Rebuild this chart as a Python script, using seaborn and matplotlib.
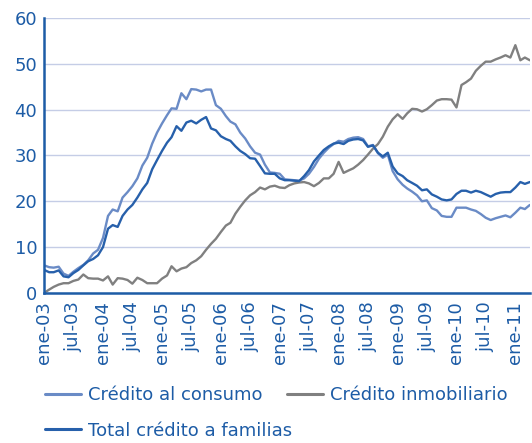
import pandas as pd
import matplotlib
matplotlib.use("Agg")
import matplotlib.pyplot as plt
import seaborn as sns

# monthly series, ene-03 .. abr-11 (%)
consumo = [6.0, 5.6, 5.5, 5.7, 4.2, 3.7, 4.6, 5.4, 6.1, 7.1,
           8.6, 9.4, 12.0, 16.8, 18.2, 17.8, 20.8, 22.0, 23.3, 25.0,
           27.8, 29.5, 32.6, 35.0, 37.0, 38.8, 40.3, 40.2, 43.6, 42.3,
           44.5, 44.4, 44.0, 44.4, 44.4, 41.0, 40.2, 38.6, 37.4, 36.8,
           35.0, 33.7, 32.0, 30.6, 30.2, 28.0, 26.3, 26.2, 26.0, 24.8,
           24.7, 24.6, 24.5, 25.0, 26.0, 27.5, 29.3, 30.6, 31.7, 32.5,
           33.2, 33.0, 33.6, 33.9, 34.0, 33.6, 32.0, 32.3, 30.5, 29.5,
           30.2, 26.6, 24.8, 23.6, 22.8, 22.1, 21.3, 20.0, 20.2, 18.5,
           18.0, 16.8, 16.6, 16.6, 18.6, 18.6, 18.6, 18.2, 17.9, 17.2,
           16.4, 15.9, 16.3, 16.6, 16.9, 16.5, 17.5, 18.6, 18.3, 19.2]

total = [5.0, 4.5, 4.5, 4.9, 3.6, 3.4, 4.3, 5.0, 6.0, 6.9,
         7.4, 8.2, 10.0, 14.0, 14.8, 14.4, 16.8, 18.2, 19.2, 20.8,
         22.6, 24.0, 27.0, 29.0, 31.0, 32.8, 34.0, 36.4, 35.4, 37.2,
         37.6, 37.0, 37.8, 38.4, 35.9, 35.5, 34.2, 33.6, 33.2, 32.0,
         31.0, 30.3, 29.4, 29.3, 27.7, 26.1, 26.0, 26.0, 25.0, 24.6,
         24.6, 24.5, 24.4, 25.5, 26.8, 28.7, 30.0, 31.2, 32.0, 32.6,
         32.8, 32.5, 33.2, 33.5, 33.6, 33.3, 31.9, 32.2, 30.6, 29.8,
         30.6, 27.6, 26.1, 25.5, 24.6, 24.0, 23.4, 22.4, 22.6, 21.5,
         21.0, 20.4, 20.2, 20.4, 21.6, 22.3, 22.3, 21.9, 22.3, 22.0,
         21.5, 21.0, 21.6, 21.9, 22.0, 22.0, 23.0, 24.2, 23.8, 24.2]

inmobiliario = [0.0, 0.7, 1.3, 1.8, 2.1, 2.1, 2.6, 2.9, 4.0, 3.2,
                3.1, 3.1, 2.7, 3.6, 1.8, 3.2, 3.1, 2.8, 2.0, 3.3,
                2.8, 2.1, 2.1, 2.1, 3.1, 3.8, 5.8, 4.7, 5.3, 5.6,
                6.5, 7.1, 8.0, 9.4, 10.7, 11.8, 13.3, 14.7, 15.3, 17.3,
                18.8, 20.2, 21.3, 22.0, 23.0, 22.6, 23.2, 23.4, 23.0, 22.9,
                23.5, 23.9, 24.1, 24.2, 23.9, 23.3, 24.0, 25.0, 25.0, 26.0,
                28.6, 26.2, 26.7, 27.2, 28.0, 29.0, 30.2, 31.5, 32.5, 34.1,
                36.3, 37.9, 39.0, 38.0, 39.2, 40.2, 40.1, 39.6, 40.1, 41.0,
                42.0, 42.3, 42.3, 42.2, 40.5, 45.4, 46.0, 46.8, 48.5, 49.6,
                50.5, 50.5, 51.0, 51.4, 51.9, 51.4, 54.1, 50.8, 51.4, 50.8]

tick_labels = ['ene-03', 'jul-03', 'ene-04', 'jul-04', 'ene-05', 'jul-05',
               'ene-06', 'jul-06', 'ene-07', 'jul-07', 'ene-08', 'jul-08',
               'ene-09', 'jul-09', 'ene-10', 'jul-10', 'ene-11']

series_names = ['Crédito al consumo', 'Crédito inmobiliario', 'Total crédito a familias']

fechas = pd.date_range('2003-01-01', periods=len(consumo), freq='MS')
df = pd.DataFrame({'fecha': fechas,
                   series_names[0]: consumo,
                   series_names[1]: inmobiliario,
                   series_names[2]: total})
df = df.melt(id_vars='fecha', var_name='serie', value_name='valor')

sns.set_style('white')
plt.rcParams['font.family'] = ['DejaVu Sans']

azul = '#1d5ca6'
colores = {series_names[0]: '#6a8bc6',
           series_names[1]: '#808080',
           series_names[2]: '#2760ab'}

fig = plt.figure(figsize=(5.32, 4.43), dpi=100)
ax = fig.add_axes([0.083, 0.339, 0.913, 0.62])

sns.lineplot(data=df, x='fecha', y='valor', hue='serie',
             hue_order=[series_names[1], series_names[0], series_names[2]],
             palette=colores, linewidth=1.7, ax=ax, legend=False)

ax.set_ylim(0, 60)
ax.set_yticks(range(0, 61, 10))
ax.set_xlim(fechas[0], fechas[-1])
tick_dates = pd.date_range('2003-01-01', periods=len(tick_labels), freq='6MS')
ax.set_xticks(tick_dates)
ax.set_xticklabels(tick_labels, rotation=90)
ax.set_xlabel('')
ax.set_ylabel('')

ax.grid(axis='y', color='#c5cde6', linewidth=1)
ax.set_axisbelow(True)
for s in ['top', 'right']:
    ax.spines[s].set_visible(False)
for s in ['left', 'bottom']:
    ax.spines[s].set_color(azul)
    ax.spines[s].set_linewidth(1.8)
ax.tick_params(axis='both', colors=azul, labelsize=13, length=4, width=1.2,
               direction='out', pad=1)
ax.tick_params(axis='x', pad=2)

h = {n: plt.Line2D([], [], color=colores[n], linewidth=2.2) for n in series_names}
leg_kw = dict(frameon=False, fontsize=13, handlelength=2.0, handletextpad=0.4,
              borderpad=0, borderaxespad=0, labelcolor=azul, loc='upper left')
fig.legend([h[series_names[0]], h[series_names[1]]], series_names[:2],
           bbox_to_anchor=(0.084, 0.128), ncol=2, columnspacing=1.35, **leg_kw)
fig.legend([h[series_names[2]]], series_names[2:],
           bbox_to_anchor=(0.084, 0.048), **leg_kw)

fig.savefig('out.png', dpi=100)
